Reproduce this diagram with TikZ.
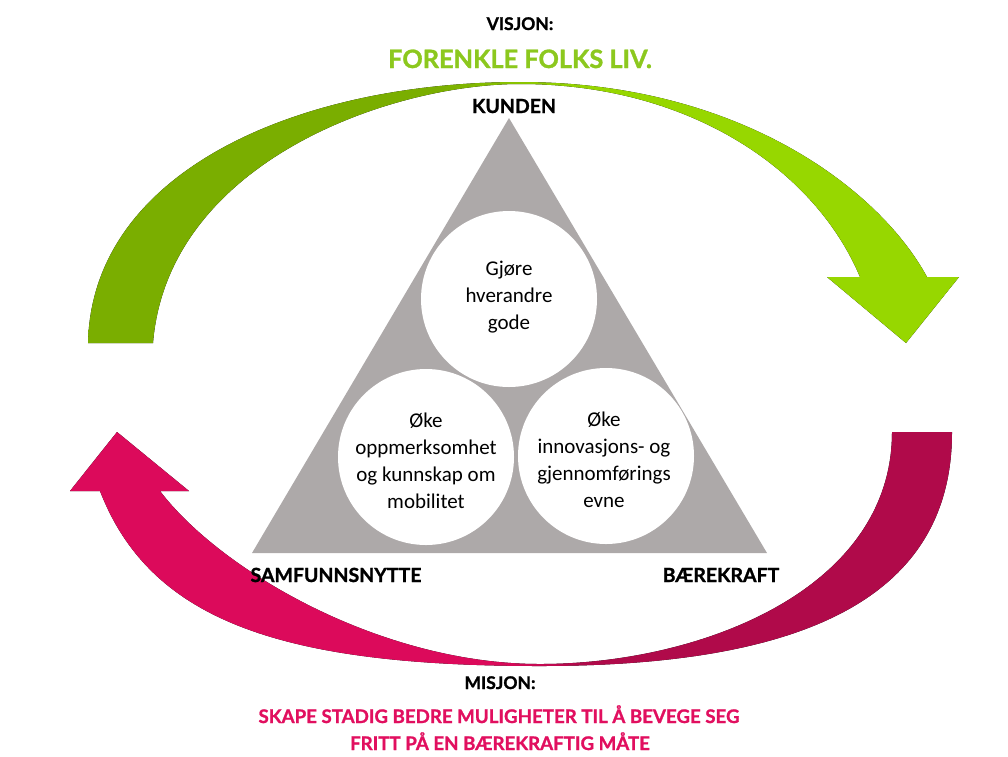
\documentclass[tikz,border=0pt]{standalone}
\usepackage{fontspec}
\setmainfont{Carlito}
\newfontfamily\labfont{Lato}[BoldFeatures={FakeBold=1.2}]
\definecolor{gdark}{RGB}{122,174,0}
\definecolor{glight}{RGB}{151,215,0}
\definecolor{pbright}{RGB}{220,10,91}
\definecolor{pdark}{RGB}{176,10,74}
\definecolor{vgreen}{RGB}{140,200,30}
\definecolor{mpink}{RGB}{225,15,95}
\definecolor{trigray}{RGB}{173,169,169}
\pgfdeclarehorizontalshading{greensh}{100bp}{color(0bp)=(gdark); color(45bp)=(gdark); color(54bp)=(glight); color(100bp)=(glight)}
\pgfdeclarehorizontalshading{pinksh}{100bp}{color(0bp)=(pbright); color(49bp)=(pbright); color(54bp)=(pdark); color(100bp)=(pdark)}
\tikzset{
  circ/.style={circle, fill=white, minimum size=176pt, inner sep=0pt},
  ctext/.style={align=center, font=\fontsize{21}{27}\selectfont, inner sep=0pt},
  lab/.style={font=\labfont\bfseries\fontsize{19.5}{22}\selectfont, inner sep=0pt, anchor=base},
  head/.style={font=\labfont\bfseries\fontsize{17.5}{20}\selectfont, inner sep=0pt, anchor=base},
  mis/.style={font=\labfont\bfseries\fontsize{18.7}{22}\selectfont, inner sep=0pt, anchor=base, text=mpink},
}
\begin{document}
\begin{tikzpicture}[x=1pt,y=-1pt]
\useasboundingbox (0,0) rectangle (1008,756);
% green arrow
\fill[shading=greensh] (88,343) .. controls (92,170) and (300,82) .. (520,82)
  .. controls (740,82) and (880,190) .. (927,277)
  -- (959,277) -- (906,343) -- (827,277) -- (860,277)
  .. controls (815,170) and (690,84) .. (520,84)
  .. controls (390,84) and (168,162) .. (153,343) -- cycle;
% pink arrow
\fill[shading=pinksh] (117,432) -- (189,491) -- (160,491)
  .. controls (220,570) and (380,664) .. (540,664)
  .. controls (700,664) and (892,590) .. (892,432)
  -- (952,432)
  .. controls (952,600) and (800,666) .. (540,666)
  .. controls (280,666) and (150,620) .. (100,491)
  -- (70,491) -- cycle;
% triangle
\coordinate (apex) at (509,118);
\coordinate (bl) at (252,553);
\coordinate (br) at (767,553);
\fill[trigray] (apex) -- (br) -- (bl) -- cycle;
% circles
\node[circ] (c1) at (509,299) {};
\node[circ] (c2) at (426,457) {};
\node[circ] (c3) at (606,456) {};
\node[ctext] (t1) at (509,297) {Gjøre\\hverandre\\gode};
\node[ctext] (t2) at (426,461) {Øke\\oppmerksomhet\\og kunnskap om\\mobilitet};
\node[ctext] (t3) at (604,460) {Øke\\innovasjons- og\\gjennomførings\\evne};
% labels
\node[head] (visjon) at (520,30) {VISJON:};
\node[lab, text=vgreen, font=\labfont\bfseries\fontsize{25.3}{28}\selectfont] (forenkle) at (520,68) {FORENKLE FOLKS LIV.};
\node[lab] (kunden) at (514,113) {KUNDEN};
\node[lab] (samf) at (336,582) {SAMFUNNSNYTTE};
\node[lab] (baere) at (721,582) {BÆREKRAFT};
\node[head] (misjon) at (500,689) {MISJON:};
\node[mis] (mis1) at (499,723) {SKAPE STADIG BEDRE MULIGHETER TIL Å BEVEGE SEG};
\node[mis] (mis2) at (500,750) {FRITT PÅ EN BÆREKRAFTIG MÅTE};
\end{tikzpicture}
\end{document}
